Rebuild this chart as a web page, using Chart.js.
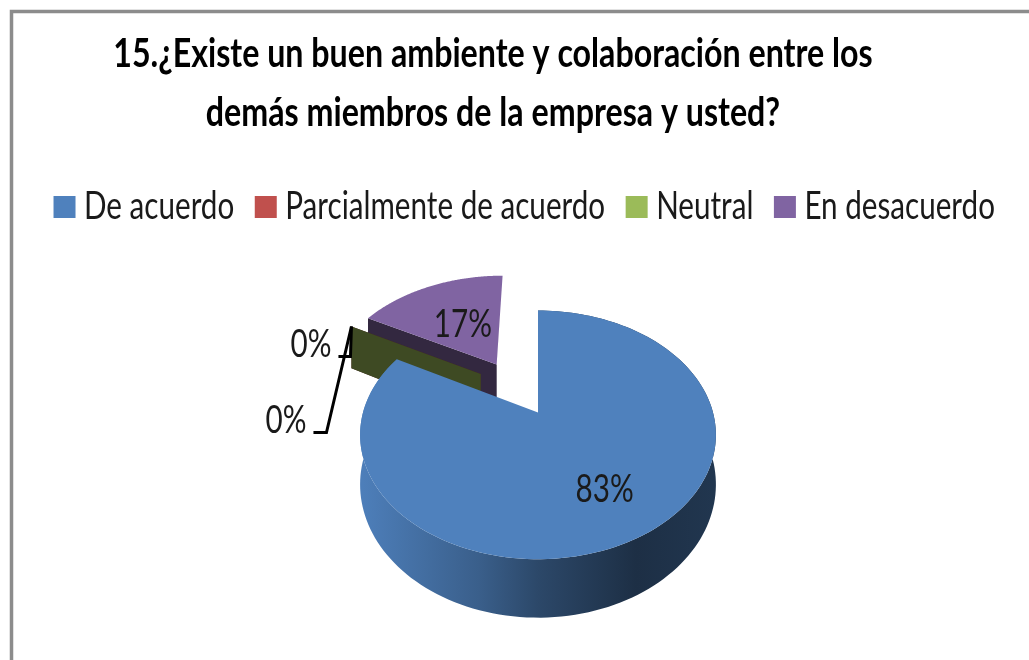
<!DOCTYPE html>
<html><head><meta charset="utf-8">
<style>html,body{margin:0;padding:0;background:#fff}canvas{display:block}</style>
<script src="https://cdn.jsdelivr.net/npm/chart.js@4"></script>
</head><body><div style="width:1029px;height:660px"><canvas id="c"></canvas></div>
<script>
const categories = ['De acuerdo','Parcialmente de acuerdo','Neutral','En desacuerdo'];
const values = [83,0,0,17];
const percentLabels = ['83%','0%','0%','17%'];
const colors = ['#4f81bd','#c0504d','#9bbb59','#8064a2'];
const explode = [0,48.5,48.5,50];        // percent of the radius
const explodeTurn = [0,15.5,15.5,0];     // degrees added to the explosion direction
const labelRadius = [0.67,0,0,0.47];
const titleLines = ['15.¿Existe un buen ambiente y colaboración entre los','demás miembros de la empresa y usted?'];
const FONT = 'Lato,"Open Sans",sans-serif';
const SQUEEZE_TEXT = 0.78, SQUEEZE_BOLD = 0.785;  // the reference text is horizontally condensed
// perspective view of the pie plate
const PERSP = -0.18, TILT = 0.263, DEPTH = 0.274, PLATE_SHIFT = 23.5;
const dark = (hex,f)=>{const n=parseInt(hex.slice(1),16);return `rgb(${(n>>16&255)*f|0},${(n>>8&255)*f|0},${(n&255)*f|0})`};

const canvas = document.getElementById('c');
const rawCtx = canvas.getContext('2d');
const protoFill = CanvasRenderingContext2D.prototype.fillText, protoMeasure = CanvasRenderingContext2D.prototype.measureText;
const squeezeOf = c => c.font.includes('bold') ? SQUEEZE_BOLD : SQUEEZE_TEXT;
rawCtx.fillText = function(t,x,y){ const s=squeezeOf(this); this.save(); this.translate(x,y); this.scale(s,1); protoFill.call(this,t,0,0); this.restore(); };
rawCtx.measureText = function(t){ const m = protoMeasure.call(this,t); return {width:m.width*squeezeOf(this), actualBoundingBoxAscent:m.actualBoundingBoxAscent, actualBoundingBoxDescent:m.actualBoundingBoxDescent}; };

function projector(arc, i){
  const R = arc.outerRadius, d = explode[i]/100;
  const mid = (arc.startAngle+arc.endAngle)/2 + explodeTurn[i]*Math.PI/180, ou = Math.cos(mid)*d, ov = Math.sin(mid)*d;
  return (r,a,down)=>{
    const u = ou + r*Math.cos(a), v = ov + r*Math.sin(a), w = 1+PERSP*v;
    return [arc.x + PLATE_SHIFT + R*u/w, (arc.y + R*TILT*v)/w + (down? R*DEPTH/w : 0)];
  };
}
function poly(ctx,pts,fill){ctx.beginPath();pts.forEach((p,k)=>k?ctx.lineTo(p[0],p[1]):ctx.moveTo(p[0],p[1]));ctx.closePath();ctx.fillStyle=fill;ctx.fill();}
function rim(P,a0,a1,down){const o=[];for(let k=0;k<=160;k++)o.push(P(1,a0+(a1-a0)*k/160,down));return o;}

const pie3d = {
  id:'pie3d',
  beforeDraw(chart){
    const c=chart.ctx; c.save(); c.fillStyle='#fff'; c.fillRect(0,0,chart.width,chart.height);
    c.strokeStyle='#8c8c8c'; c.lineWidth=3.5; c.beginPath();
    c.moveTo(11.5,chart.height); c.lineTo(11.5,11.5); c.lineTo(chart.width,11.5); c.stroke(); c.restore();
  },
  afterLayout(chart){
    chart.titleBlock.left -= 21.5; chart.titleBlock.right -= 21.5;
    chart.legend.left += 15; chart.legend.right += 15;
  },
  beforeDatasetDraw(chart,args){
    const ctx=chart.ctx, arcs=args.meta.data;
    ctx.save();
    [3,1,2,0].forEach(i=>{
      const arc=arcs[i], P=projector(arc,i), a0=arc.startAngle, a1=arc.endAngle;
      if(i===0){
        const L=arc.x+PLATE_SHIFT-arc.outerRadius, W=2*arc.outerRadius, g=ctx.createLinearGradient(L,0,L+W,0);
        g.addColorStop(0,dark(colors[0],.98)); g.addColorStop(.33,dark(colors[0],.74));
        g.addColorStop(.5,dark(colors[0],.56)); g.addColorStop(.78,dark(colors[0],.37)); g.addColorStop(1,dark(colors[0],.42));
        poly(ctx,rim(P,a0,a1,false).concat(rim(P,a1,a0,true)),g);
      } else {
        poly(ctx,[P(0,a0,false),P(1,a0,false),P(1,a0,true),P(0,a0,true)],dark(colors[i],.4));
      }
      if(a1>a0) poly(ctx,[P(0,a0,false)].concat(rim(P,a0,a1,false)),colors[i]);
    });
    ctx.restore();
    return false;
  },
  afterDatasetsDraw(chart){
    const ctx=chart.ctx, arcs=chart.getDatasetMeta(0).data;
    ctx.save();
    ctx.font='38px '+FONT; ctx.fillStyle='#1a1a1a'; ctx.textBaseline='middle';
    const leaders={1:[[-25,106],[-38,106]],2:[[-1,30],[-13,30]]};
    arcs.forEach((arc,i)=>{
      const P=projector(arc,i);
      if(values[i]>0){
        const q=P(labelRadius[i],(arc.startAngle+arc.endAngle)/2,false);
        ctx.textAlign='center'; ctx.fillText(percentLabels[i],q[0],q[1]);
      } else {
        const s=P(1,arc.startAngle,false), l=leaders[i];
        ctx.strokeStyle='#000'; ctx.lineWidth=3; ctx.beginPath(); ctx.moveTo(s[0],s[1]);
        l.forEach(o=>ctx.lineTo(s[0]+o[0],s[1]+o[1])); ctx.stroke();
        const e=l[1]; ctx.textAlign='right';
        ctx.fillText(percentLabels[i],s[0]+e[0]-7,s[1]+e[1]-12);
      }
    });
    ctx.restore();
  }
};

new Chart(canvas,{
  type:'pie',
  data:{labels:categories,datasets:[{data:values,backgroundColor:colors,borderWidth:0,radius:175}]},
  options:{
    responsive:true,maintainAspectRatio:false,animation:false,events:[],
    layout:{padding:{bottom:71}},
    plugins:{
      tooltip:{enabled:false},
      title:{display:true,text:titleLines,color:'#000',
        font:{family:FONT,size:41,weight:'bold',lineHeight:59/41},padding:{top:24,bottom:15}},
      legend:{position:'top',labels:{color:'#1a1a1a',font:{family:FONT,size:38},
        usePointStyle:true,pointStyle:'rect',boxWidth:1,boxHeight:22,padding:31}}
    }
  },
  plugins:[pie3d]
});
</script></body></html>
